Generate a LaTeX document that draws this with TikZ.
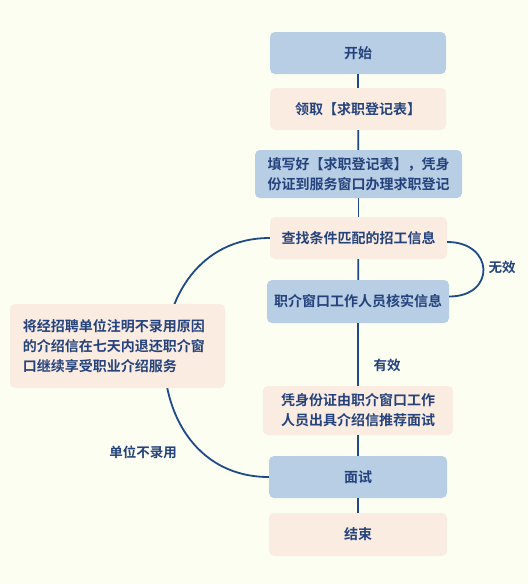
\documentclass[tikz,border=0pt]{standalone}
\usepackage{fontspec}
\setmainfont{Noto Sans CJK SC}[BoldFont={Noto Sans CJK SC Bold}]
\definecolor{bg}{HTML}{FDFEF2}
\definecolor{bluefill}{HTML}{B8CEE4}
\definecolor{peachfill}{HTML}{FBECE1}
\definecolor{linec}{HTML}{1E4A8A}
\definecolor{txt}{HTML}{24427C}
\tikzset{
  box/.style={rounded corners=5pt, inner sep=0pt, text=txt, font=\fontsize{14}{20}\selectfont\bfseries, align=center},
  bluebox/.style={box, fill=bluefill},
  peachbox/.style={box, fill=peachfill},
  conn/.style={draw=linec, line width=1.8pt},
  lbl/.style={text=txt, font=\fontsize{13.5}{16}\selectfont\bfseries, inner sep=0pt}
}
\begin{document}
\begin{tikzpicture}[x=1pt,y=-1pt]
\fill[bg] (0,0) rectangle (528,584);
\useasboundingbox (0,0) rectangle (528,584);
% nodes
\node[bluebox, minimum width=176pt, minimum height=42pt] (start) at (358,53) {开始};
\node[peachbox, minimum width=176pt, minimum height=42pt] (get) at (358,109) {领取【求职登记表】};
\node[bluebox, minimum width=207pt, minimum height=48pt] (fill) at (358.5,174) {填写好【求职登记表】，凭身\\份证到服务窗口办理求职登记};
\node[peachbox, minimum width=177pt, minimum height=42pt] (find) at (358.5,238) {查找条件匹配的招工信息};
\node[bluebox, minimum width=182pt, minimum height=43pt] (verify) at (358,301.5) {职介窗口工作人员核实信息};
\node[peachbox, minimum width=190pt, minimum height=49pt] (issue) at (358,410.5) {凭身份证由职介窗口工作\\人员出具介绍信推荐面试};
\node[bluebox, minimum width=178pt, minimum height=42pt] (interview) at (358,477) {面试};
\node[peachbox, minimum width=178pt, minimum height=43pt] (end) at (358,534.5) {结束};
% connectors
\draw[conn] (start) -- (get);
\draw[conn] (get) -- (fill);
\draw[conn] (fill) -- (find);
\draw[conn] (find) -- (verify);
\draw[conn] (verify) -- (issue);
\draw[conn] (issue) -- (interview);
\draw[conn] (interview) -- (end);
\draw[conn] ([yshift=-4pt]find.east) .. controls +(47,0) and +(47,0) .. ([yshift=5pt]verify.east);
\draw[conn] (find.west) .. controls +(-140,0) and +(-140,0) .. (interview.west);
% left box drawn on top of the loop curve
\node[peachbox, minimum width=215pt, minimum height=84pt, text width=189pt, align=left] (back) at (117.5,346) {将经招聘单位注明不录用原因\\的介绍信在七天内退还职介窗\\口继续享受职业介绍服务};
% labels
\node[lbl] (lwx) at (502,267) {无效};
\node[lbl] (lyx) at (387,365) {有效};
\node[lbl] (lbu) at (143,452) {单位不录用};
\end{tikzpicture}
\end{document}
